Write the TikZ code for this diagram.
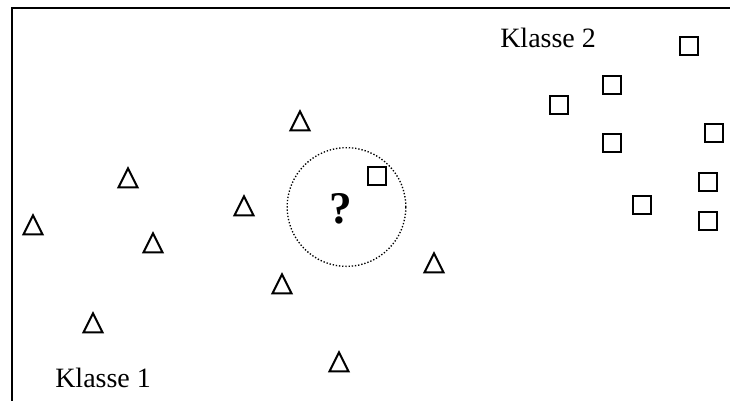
\documentclass[tikz,border=0pt]{standalone}
\usepackage{fontspec}
\setmainfont{Liberation Serif}
\begin{document}
\begin{tikzpicture}[x=0.75pt,y=-0.75pt,
  outl/.style={line width=1.5pt,line join=miter},
  lbl/.style={inner sep=0pt,font=\fontsize{21}{24}\selectfont},
  tri/.pic={\draw[outl] (-9.5,9.3)--(9.5,9.3)--(0,-9.7)--cycle;},
  sq/.pic={\draw[outl] (-9.2,-9.2) rectangle (9.2,9.2);}]
\useasboundingbox (0,0) rectangle (730,401);
% frame
\coordinate (tl) at (12,8);
\coordinate (tr) at (730,8);
\coordinate (bl) at (12,401);
\draw[line width=1.6pt] (tr) -- (tl) -- (bl);
% class 1 (triangles)
\foreach \p/\x/\y in {t1/300/121,t2/128/178,t3/244/206,t4/33/225,t5/153/243,t6/434/263,t7/282/284,t8/93/323,t9/339/362}
  \pic (\p) at (\x,\y) {tri};
% class 2 (squares)
\foreach \p/\x/\y in {s1/689/46,s2/612/85,s3/559/105,s4/714/133,s5/612/143,s6/708/182,s7/377/176,s8/642/205,s9/708/221}
  \pic (\p) at (\x,\y) {sq};
% query region
\node[circle,draw,line width=1pt,dash pattern=on 1pt off 1.4pt,minimum size=89pt,inner sep=0pt] (q) at (346.5,207) {};
\node[anchor=base,inner sep=0pt,font=\fontsize{34}{37}\selectfont\bfseries] (qm) at (341,223) {?};
% labels
\node[lbl,anchor=base west] (k1) at (55,387) {Klasse 1};
\node[lbl,anchor=base west] (k2) at (500,47) {Klasse 2};
\end{tikzpicture}
\end{document}
